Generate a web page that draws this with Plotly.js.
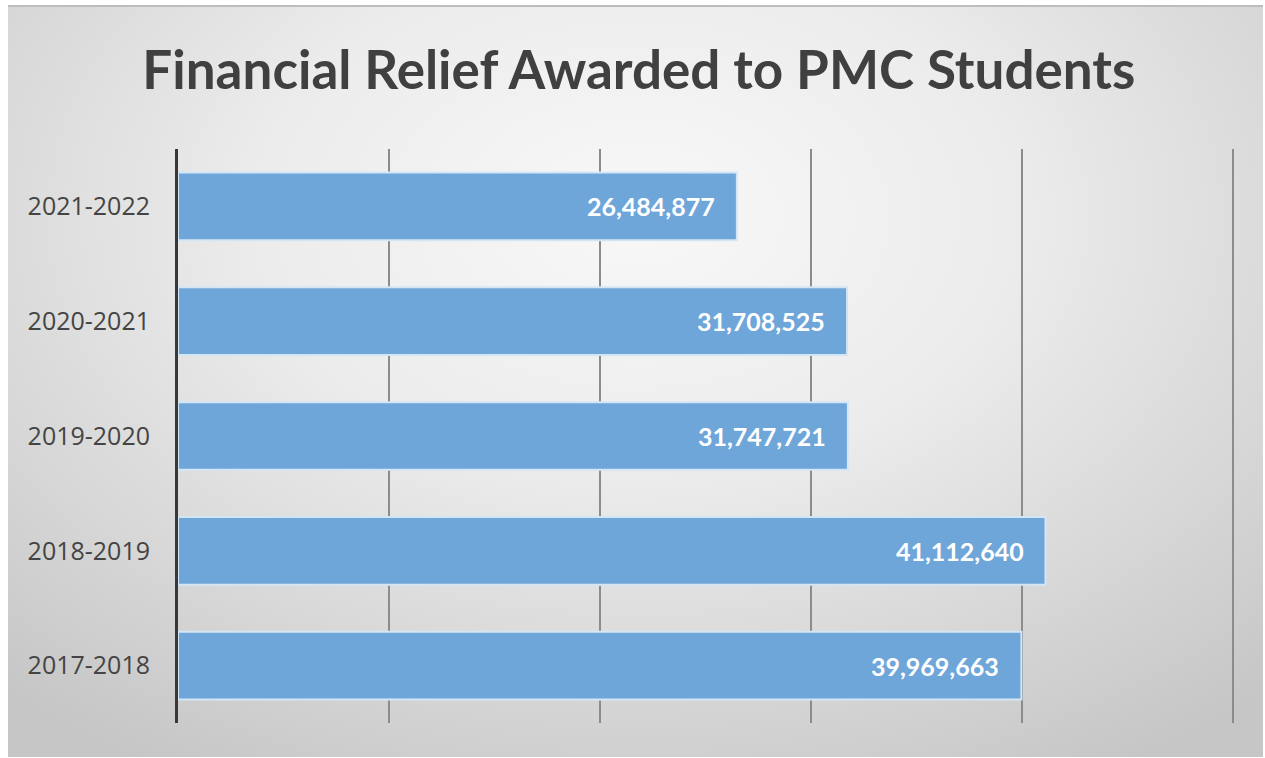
<!DOCTYPE html>
<html>
<head>
<meta charset="utf-8">
<script src="https://cdn.plot.ly/plotly-3.0.1.min.js"></script>
<style>
  html, body { margin: 0; padding: 0; background: #ffffff; width: 1265px; height: 758px; overflow: hidden; }
  #panel {
    position: absolute; left: 8px; top: 5px; width: 1255px; height: 750px;
    border-top: 2px solid #bdbdbd;
    background: radial-gradient(ellipse 75% 85% at 50% 28%, #f8f8f8 0%, #ececec 40%, #d6d6d6 75%, #c6c6c6 100%);
  }
  #chart { position: absolute; left: 0; top: 0; width: 1265px; height: 758px; }
</style>
</head>
<body>
<div id="panel"></div>
<div id="chart"></div>
<script>
const years = ["2021-2022", "2020-2021", "2019-2020", "2018-2019", "2017-2018"];
const relief = [26484877, 31708525, 31747721, 41112640, 39969663];
const titleText = "Financial Relief Awarded to PMC Students";

const trace = {
  type: "bar",
  orientation: "h",
  y: years,
  x: relief,
  marker: { color: "#6fa6da", line: { color: "#d3e6f6", width: 2 } },
  hoverinfo: "none"
};

const annotations = years.map((y, i) => ({
  x: relief[i], y: y, xref: "x", yref: "y",
  text: relief[i].toLocaleString("en-US"),
  showarrow: false, xanchor: "right", yanchor: "middle", xshift: -20,
  font: { family: "Lato, 'Open Sans', sans-serif", size: 25, color: "#ffffff", weight: "bold" }
}));

const layout = {
  width: 1265, height: 758,
  paper_bgcolor: "rgba(0,0,0,0)",
  plot_bgcolor: "rgba(0,0,0,0)",
  margin: { l: 178, r: 25, t: 148.5, b: 34.5 },
  title: {
    text: "<b>" + titleText + "</b>",
    x: 0.505, xanchor: "center", xref: "container",
    y: 0.907, yanchor: "middle", yref: "container",
    font: { family: "Lato, 'Open Sans', sans-serif", size: 53, color: "#404040" }
  },
  xaxis: {
    range: [0, 50.33e6],
    tickvals: [0, 10e6, 20e6, 30e6, 40e6, 50e6],
    showticklabels: false,
    showgrid: true, gridcolor: "#8c8c8c", gridwidth: 1.6,
    zeroline: false, showline: false, ticks: ""
  },
  yaxis: {
    type: "category",
    range: [4.5, -0.5],
    showline: true, linecolor: "#383838", linewidth: 3,
    showgrid: false, zeroline: false,
    ticks: "outside", ticklen: 20, tickcolor: "rgba(0,0,0,0)",
    tickfont: { family: "'Open Sans', sans-serif", size: 25, color: "#444444" }
  },
  bargap: 0.41,
  showlegend: false,
  annotations: annotations
};

Plotly.newPlot("chart", [trace], layout, { displayModeBar: false, staticPlot: true });
</script>
</body>
</html>
